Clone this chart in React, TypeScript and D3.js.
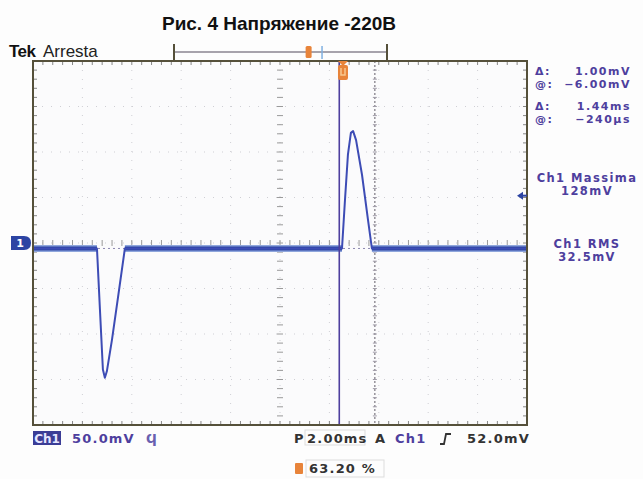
import React from "react";
import * as d3 from "d3";

// ---- data ----
const timeMs = [0, 2.59, 2.71, 2.83, 2.91, 2.99, 3.2, 3.44, 3.72, 12.51, 12.63, 12.75, 12.87, 12.96, 13.08, 13.32, 13.56, 13.72, 20];
const voltageMv = [-6, -6, -73, -139, -148, -141, -106, -60, -6, -6, 47, 97, 121, 123, 113, 75, 26, -6, -6];
const baselineSegments: [number, number][] = [[0, 2.59], [3.72, 12.51], [13.72, 20]];
const baselineMv = -6;
const cursorTimes = [12.4, 13.84];
const triggerTimeMs = 12.55;
const triggerLevelMv = 52;
const groundMv = 0;
const recordTriggerPct = 63.2;
const recordCenterPct = 69.5;
const timeTicks = d3.range(0, 21, 2);
const voltTicks = d3.range(-200, 201, 50);

const title = "Рис. 4 Напряжение -220В";
const readouts = [
  { label: "Δ:", value: "1.00mV" },
  { label: "@:", value: "−6.00mV" },
  { label: "Δ:", value: "1.44ms" },
  { label: "@:", value: "−240µs" },
];
const measures = [
  { name: "Ch1 Massima", value: "128mV" },
  { name: "Ch1 RMS", value: "32.5mV" },
];

const L = 33, R = 527, T = 61, B = 425;
const x = d3.scaleLinear().domain([0, 20]).range([L, R]);
const y = d3.scaleLinear().domain([-200, 200]).range([B, T]);
const rec = d3.scaleLinear().domain([0, 100]).range([174, 387]);

const purple = "#4e3f9e";
const traceBlue = "#2c44a3";
const frame = "#55503a";
const font = "'DejaVu Sans', Verdana, sans-serif";
const arial = "'Liberation Sans', Arial, sans-serif";

export default function App() {
  const pts = timeMs.map((t, i) => [t, voltageMv[i]] as [number, number]);
  const line = d3.line<[number, number]>().x((d) => x(d[0])).y((d) => y(d[1]));
  const minorX = d3.range(0, 20.001, 0.4);
  const minorY = d3.range(-200, 200.001, 10);
  const cx = x(10), cy = y(0);
  return (
    <svg width={643} height={479} style={{ position: "absolute", left: 0, top: 0, background: "#fff" }} fontFamily={font}>
      <rect x={0} y={0} width={643} height={479} fill="#fdfdfd" />
      {/* title */}
      <text x={279} y={30} textAnchor="middle" fontFamily={arial} fontWeight="bold" fontSize={19} fill="#111">{title}</text>
      <text x={9} y={57} fontFamily={arial} fontWeight="bold" fontSize={17} fill="#111" letterSpacing={-0.5}>Tek</text>
      <text x={43} y={57} fontFamily={arial} fontSize={17} fill="#222">Arresta</text>

      {/* record bar */}
      <line x1={rec(0)} x2={rec(100)} y1={52} y2={52} stroke="#8a8490" strokeWidth={1.5} />
      <line x1={rec(0)} x2={rec(0)} y1={44} y2={61} stroke={frame} strokeWidth={2} />
      <line x1={rec(100)} x2={rec(100)} y1={44} y2={61} stroke={frame} strokeWidth={2} />
      <line x1={rec(recordCenterPct)} x2={rec(recordCenterPct)} y1={46} y2={59} stroke="#7fb0e0" strokeWidth={1.5} />
      <rect x={rec(recordTriggerPct) - 3} y={46} width={6} height={12} rx={1.5} fill="#e8843a" />

      {/* plot background */}
      <rect x={L} y={T} width={R - L} height={B - T} fill="#fbfbfc" />
      {/* graticule dotted */}
      {timeTicks.slice(1, -1).map((t) => (
        <line key={"gx" + t} x1={x(t)} x2={x(t)} y1={T} y2={B} stroke="#cfcfd4" strokeWidth={1} strokeDasharray="1,8" />
      ))}
      {voltTicks.slice(1, -1).map((v) => (
        <line key={"gy" + v} x1={L} x2={R} y1={y(v)} y2={y(v)} stroke="#cfcfd4" strokeWidth={1} strokeDasharray="1,8" />
      ))}
      {/* center crosshair ticks */}
      {minorY.map((v) => (
        <line key={"cy" + v} x1={cx - 3} x2={cx + 3} y1={y(v)} y2={y(v)} stroke="#9a9a9a" strokeWidth={1} />
      ))}
      {minorX.map((t) => (
        <line key={"cx" + t} x1={x(t)} x2={x(t)} y1={cy - 3} y2={cy + 3} stroke="#9a9a9a" strokeWidth={1} />
      ))}
      {/* border ticks */}
      {minorX.map((t) => (
        <g key={"bt" + t}>
          <line x1={x(t)} x2={x(t)} y1={T} y2={T + 4} stroke="#888" strokeWidth={1} />
          <line x1={x(t)} x2={x(t)} y1={B - 4} y2={B} stroke="#888" strokeWidth={1} />
        </g>
      ))}
      {minorY.map((v) => (
        <g key={"bl" + v}>
          <line x1={L} x2={L + 4} y1={y(v)} y2={y(v)} stroke="#888" strokeWidth={1} />
          <line x1={R - 4} x2={R} y1={y(v)} y2={y(v)} stroke="#888" strokeWidth={1} />
        </g>
      ))}

      {/* horizontal cursors (near baseline) */}
      <line x1={L} x2={R} y1={y(baselineMv)} y2={y(baselineMv)} stroke="#8c86b0" strokeWidth={1} strokeDasharray="2,3" />
      {/* vertical cursors */}
      <line x1={x(cursorTimes[1])} x2={x(cursorTimes[1])} y1={T} y2={B} stroke="#7b7780" strokeWidth={1.2} strokeDasharray="2,2" />
      {minorY.map((v) => (
        <line key={"c2" + v} x1={x(cursorTimes[1]) - 2} x2={x(cursorTimes[1]) + 2} y1={y(v)} y2={y(v)} stroke="#a09ca8" strokeWidth={1} />
      ))}

      {/* trace */}
      {baselineSegments.map(([a, b], i) => (
        <line key={"bh" + i} x1={x(a)} x2={x(b)} y1={y(baselineMv)} y2={y(baselineMv)} stroke="#8fa6dc" strokeWidth={7} />
      ))}
      {baselineSegments.map(([a, b], i) => (
        <line key={"bs" + i} x1={x(a)} x2={x(b)} y1={y(baselineMv)} y2={y(baselineMv)} stroke={traceBlue} strokeWidth={4} />
      ))}
      <path d={line(pts) || ""} fill="none" stroke="#3d4cb5" strokeWidth={2} strokeLinejoin="round" />

      <line x1={x(cursorTimes[0])} x2={x(cursorTimes[0])} y1={T} y2={B} stroke={purple} strokeWidth={1.6} />

      {/* frame */}
      <rect x={L} y={T} width={R - L} height={B - T} fill="none" stroke={frame} strokeWidth={2} />

      {/* trigger position marker */}
      <g transform={`translate(${x(triggerTimeMs)},${T})`}>
        <path d="M-5,0 L5,0 L0,5 Z" fill="#e8843a" />
        <rect x={-5} y={4} width={10} height={15} rx={2} fill="#e8843a" />
        <path d="M-2,7 L-2,14 L2,14 L2,7" fill="none" stroke="#f8c890" strokeWidth={1.5} />
      </g>
      {/* ground marker */}
      <g transform={`translate(0,${y(groundMv)})`}>
        <path d="M11,-7 L24,-7 Q31,-7 31,0 Q31,7 24,7 L11,7 Z" fill={traceBlue} />
        <text x={20} y={4} textAnchor="middle" fontSize={11} fontWeight="bold" fill="#fff">1</text>
      </g>
      {/* trigger level marker */}
      <g transform={`translate(${R - 4},${y(triggerLevelMv)})`}>
        <path d="M-6,0 L0,-4 L0,4 Z" fill={traceBlue} />
        <line x1={0} x2={4} y1={0} y2={0} stroke={traceBlue} strokeWidth={2} />
      </g>

      {/* readouts */}
      {readouts.map((r, i) => {
        const yy = [75, 88, 110, 123][i];
        return (
          <g key={"ro" + i} fontSize={11} fontWeight="bold" fill={purple} letterSpacing={1.5}>
            <text x={535} y={yy}>{r.label}</text>
            <text x={631} y={yy} textAnchor="end">{r.value}</text>
          </g>
        );
      })}
      {measures.map((m, i) => {
        const yy = [182, 248][i];
        return (
          <g key={"ms" + i} fontSize={11.5} fontWeight="bold" fill={purple} textAnchor="middle" letterSpacing={1.4}>
            <text x={587} y={yy}>{m.name}</text>
            <text x={587} y={yy + 13}>{m.value}</text>
          </g>
        );
      })}

      {/* bottom status */}
      <g fontSize={13} fontWeight="bold" letterSpacing={1.2}>
        <rect x={33} y={431} width={28} height={14} fill="#3b3d96" />
        <text x={47} y={443} textAnchor="middle" fontSize={12} fill="#e6e6ff" letterSpacing={0}>Ch1</text>
        <text x={72} y={443} fill={purple}>50.0mV</text>
        <text x={146} y={443} fill="#6a60b0">Ϥ</text>
        <text x={294} y={443} fill="#333">P</text>
        <rect x={305} y={430} width={60} height={15} fill="none" stroke="#ddd" />
        <text x={307} y={443} fill="#333">2.00ms</text>
        <text x={375} y={443} fill="#333">A</text>
        <text x={395} y={443} fill={purple}>Ch1</text>
        <path d="M440,444 L444,444 L446,434 L451,434" fill="none" stroke="#333" strokeWidth={1.8} />
        <text x={530} y={443} textAnchor="end" fill="#333">52.0mV</text>

        <rect x={295} y={463} width={8} height={11} rx={1} fill="#e8843a" />
        <rect x={306} y={460} width={78} height={17} fill="none" stroke="#ddd" />
        <text x={309} y={473} fill="#333">63.20 %</text>
      </g>
    </svg>
  );
}
